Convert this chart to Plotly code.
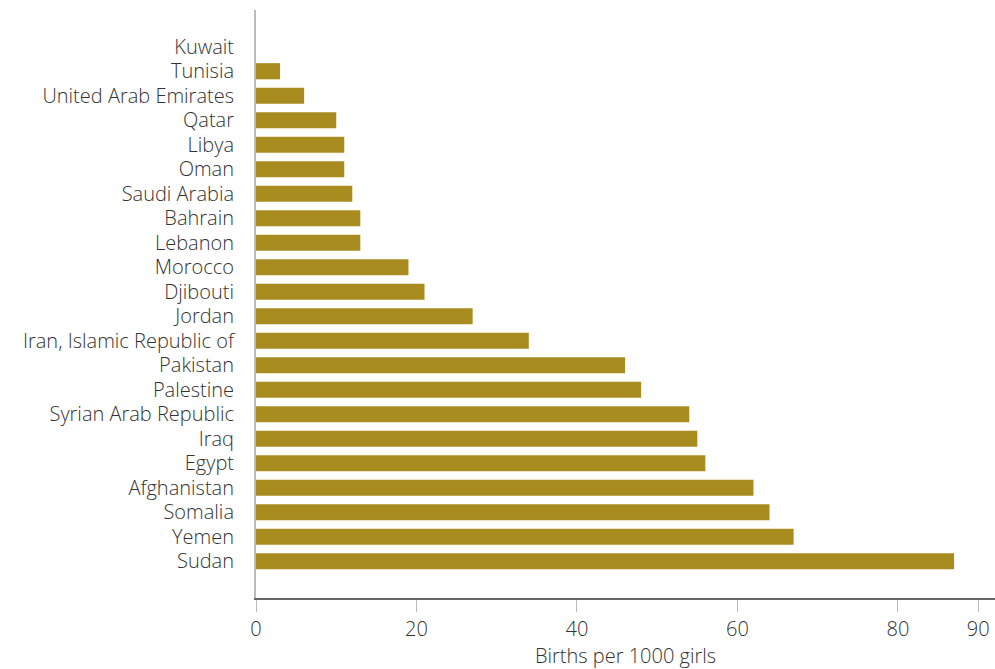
import plotly.graph_objects as go

countries = ["Sudan", "Yemen", "Somalia", "Afghanistan", "Egypt", "Iraq",
             "Syrian Arab Republic", "Palestine", "Pakistan",
             "Iran, Islamic Republic of", "Jordan", "Djibouti", "Morocco",
             "Lebanon", "Bahrain", "Saudi Arabia", "Oman", "Libya", "Qatar",
             "United Arab Emirates", "Tunisia", "Kuwait"]
births = [87, 67, 64, 62, 56, 55, 54, 48, 46, 34, 27, 21, 19, 13, 13, 12, 11,
          11, 10, 6, 3, 0]
tick_vals = [0, 20, 40, 60, 80, 90]
x_title = "Births per 1000 girls"

fig = go.Figure(go.Bar(
    y=countries, x=births, orientation="h",
    marker=dict(color="#A88C20", line=dict(width=0)),
    width=0.66,
))

font = dict(family="Open Sans, sans-serif", size=20, color="#333333", weight=300)

fig.update_layout(
    width=995, height=669,
    margin=dict(l=256, r=0, t=10, b=71),
    plot_bgcolor="white", paper_bgcolor="white",
    showlegend=False,
    font=font,
)
fig.update_xaxes(
    range=[0, 92.1], tickvals=tick_vals, showgrid=False, zeroline=False,
    showline=True, linecolor="#666666", linewidth=2,
    ticks="outside", ticklen=12, tickcolor="#bbbbbb", tickwidth=1,
    tickfont=font, automargin=False,
    title=dict(text=x_title, font=font, standoff=16),
)
fig.update_yaxes(
    categoryorder="array", categoryarray=countries,
    tickmode="array", tickvals=countries, ticktext=countries,
    range=[-1.5, 22.5], showgrid=False, zeroline=False,
    showline=True, linecolor="#bbbbbb", linewidth=2,
    ticks="", tickfont=font, ticklabelstandoff=16, automargin=False,
)

fig.write_html("out.html", config={"displayModeBar": False},
               post_script="document.body.style.margin='0';document.body.style.overflow='hidden';")
